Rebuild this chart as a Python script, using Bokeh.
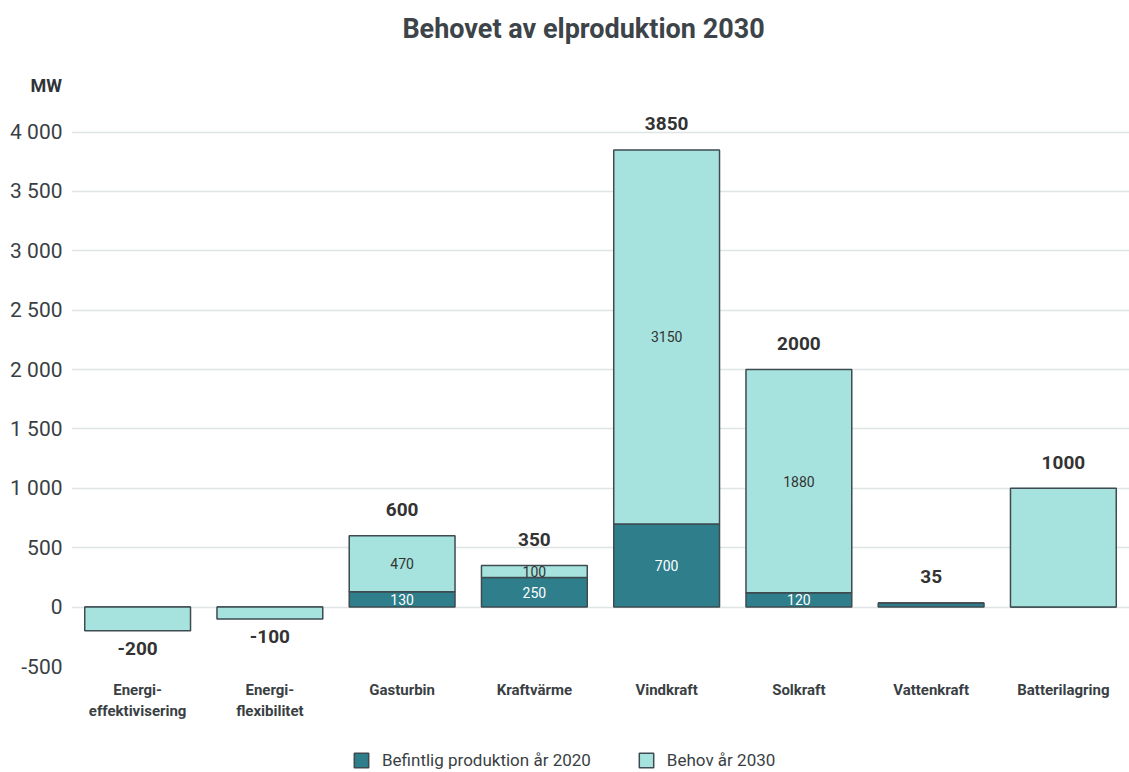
from bokeh.plotting import figure
from bokeh.layouts import column
from bokeh.models import FactorRange, Range1d, FixedTicker, Legend, LegendItem, ColumnDataSource, Title
from bokeh.core.properties import value
from bokeh.embed import file_html
from bokeh.resources import INLINE

categories = ["Energi-\neffektivisering", "Energi-\nflexibilitet", "Gasturbin", "Kraftvärme",
              "Vindkraft", "Solkraft", "Vattenkraft", "Batterilagring"]
befintlig = [0, 0, 130, 250, 700, 120, 35, 0]
behov = [-200, -100, 470, 100, 3150, 1880, 0, 1000]
series_names = ["Befintlig produktion år 2020", "Behov år 2030"]
y_ticks = [-500, 0, 500, 1000, 1500, 2000, 2500, 3000, 3500, 4000]
title_text = "Behovet av elproduktion 2030"
unit_text = "MW"

DARK = "#2e7e8b"
LIGHT = "#a6e3df"
OUTLINE = "#3e4b50"
TEXT = "#3a3f44"
FONT = "Roboto"
W = 1129
LEFT = 71

# ---------- header (title) ----------
head = figure(width=W, height=60, x_range=Range1d(LEFT, W), y_range=Range1d(60, 0),
              x_axis_type=None, y_axis_type=None, min_border=0, min_border_left=LEFT,
              output_backend="svg", toolbar_location=None, tools="")
head.outline_line_color = None
head.grid.grid_line_color = None
head.text(x=[583], y=[28], text=[title_text], text_align="center", text_baseline="middle",
          text_font=value(FONT), text_font_size="27px", text_font_style="bold",
          text_color="#3d4449")

# ---------- main chart ----------
p = figure(x_range=FactorRange(*categories, range_padding=0), y_range=Range1d(-500, 4266),
           frame_width=W - LEFT, frame_height=566, min_border_left=LEFT, min_border_right=0,
           min_border_top=40, min_border_bottom=64, title=None,
           output_backend="svg", toolbar_location=None, tools="")
p.outline_line_color = None
p.background_fill_color = "white"

src = ColumnDataSource(dict(cat=categories, bef=befintlig, beh=behov))
rs = p.vbar_stack(["bef", "beh"], x="cat", width=0.8, source=src,
                  fill_color=[DARK, LIGHT], line_color=OUTLINE, line_width=1.5)

# unit label above the value axis
p.add_layout(Title(text=unit_text, align="left", offset=-41, standoff=10,
                   text_font=FONT, text_font_size="18px", text_font_style="bold",
                   text_color="#2f3438"), "above")

# totals
tot = [b + h for b, h in zip(befintlig, behov)]
tsrc = ColumnDataSource(dict(cat=categories, y=tot, t=[str(v) for v in tot],
                             off=[-26 if v >= 0 else 18 for v in tot]))
p.text(x="cat", y="y", text="t", y_offset="off", source=tsrc, text_align="center",
       text_baseline="middle", text_font=value(FONT), text_font_size="19px",
       text_font_style="bold", text_color="#333333")

# segment labels
sc, sy, st, scol = [], [], [], []
for c, b, h in zip(categories, befintlig, behov):
    if b != 0 and h != 0:
        sc += [c, c]
        sy += [b / 2, b + h / 2]
        st += [str(b), str(h)]
        scol += ["white", "#333333"]
ssrc = ColumnDataSource(dict(cat=sc, y=sy, t=st, col=scol))
p.text(x="cat", y="y", text="t", source=ssrc, text_color="col", text_align="center",
       text_baseline="middle", text_font=value(FONT), text_font_size="14px")

# axes
p.yaxis.ticker = FixedTicker(ticks=y_ticks)
p.yaxis.major_label_overrides = {v: f"{v:,}".replace(",", " ") for v in y_ticks}
p.yaxis.axis_line_color = None
p.yaxis.major_tick_line_color = None
p.yaxis.major_tick_out = 0
p.yaxis.minor_tick_line_color = None
p.yaxis.major_label_standoff = 9
p.yaxis.major_label_text_font = FONT
p.yaxis.major_label_text_font_size = "21px"
p.yaxis.major_label_text_color = TEXT

p.xaxis.axis_line_color = None
p.xaxis.major_tick_line_color = None
p.xaxis.major_tick_out = 0
p.xaxis.major_label_standoff = 14
p.xaxis.major_label_text_font = FONT
p.xaxis.major_label_text_font_size = "15px"
p.xaxis.major_label_text_font_style = "bold"
p.xaxis.major_label_text_color = TEXT

p.xgrid.grid_line_color = None
p.ygrid.grid_line_color = "#dfe5e5"
p.ygrid.grid_line_width = 1.5

# ---------- footer (legend) ----------
foot = figure(width=W, height=42, x_range=Range1d(0, 1), y_range=Range1d(0, 1),
              x_axis_type=None, y_axis_type=None, min_border=0, min_border_left=LEFT,
              output_backend="svg", toolbar_location=None, tools="")
foot.outline_line_color = None
foot.grid.grid_line_color = None
# legend swatches only (placed outside the visible range)
r_dark = foot.rect(x=[5], y=[5], width=0.1, height=0.1, fill_color=DARK,
                   line_color=OUTLINE, line_width=1.5)
r_light = foot.rect(x=[5], y=[5], width=0.1, height=0.1, fill_color=LIGHT,
                    line_color=OUTLINE, line_width=1.5)
legend = Legend(items=[LegendItem(label=series_names[0], renderers=[r_dark]),
                       LegendItem(label=series_names[1], renderers=[r_light])],
                location=(352 - LEFT, 2), orientation="horizontal", padding=0, margin=0,
                glyph_width=18, glyph_height=18, label_standoff=12, spacing=46,
                label_height=18,
                label_text_font=FONT, label_text_font_size="17px", label_text_color=TEXT,
                border_line_color=None, background_fill_alpha=0)
foot.add_layout(legend, "center")

layout = column(head, p, foot, spacing=0)
open("out.html", "w").write(file_html(layout, INLINE))
